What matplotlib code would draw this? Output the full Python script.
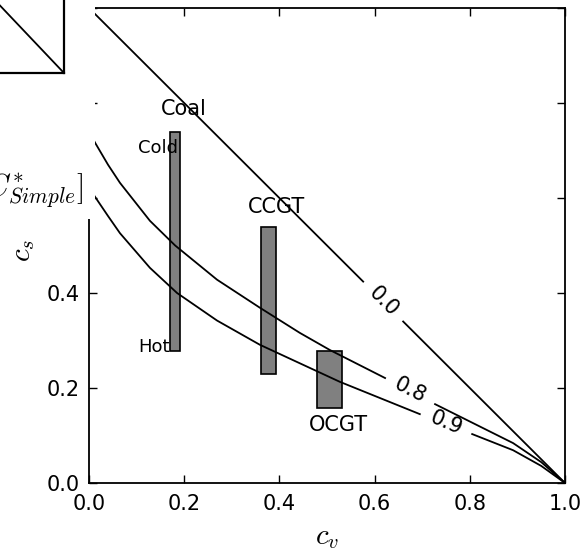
import matplotlib
matplotlib.use('Agg')
import matplotlib.pyplot as plt

plt.rcParams['mathtext.fontset'] = 'cm'
plt.rcParams['font.family'] = 'DejaVu Sans'

# technology bars (c_v centre, bar width, c_s bottom, c_s top)
techs = ['Coal', 'CCGT', 'OCGT']
tech_cv = [0.181, 0.377, 0.505]
tech_width = [0.021, 0.032, 0.052]
tech_lo = [0.278, 0.229, 0.158]
tech_hi = [0.739, 0.539, 0.278]
tech_label_xy = [(0.200, 0.775), (0.393, 0.568), (0.525, 0.109)]

# iso-lines (c_v, c_s); None marks the gap for the label
line_00_cv = [0.0, 0.576, None, 0.660, 1.0]
line_00_cs = [1.0, 0.424, None, 0.340, 0.0]

line_08_cv = [0.0, 0.013, 0.040, 0.065, 0.128, 0.181, 0.269, 0.359, 0.443,
              0.506, 0.622, None, 0.727, 0.891, 0.950, 1.0]
line_08_cs = [0.740, 0.716, 0.670, 0.632, 0.552, 0.500, 0.428, 0.369, 0.316,
              0.280, 0.221, None, 0.166, 0.084, 0.044, 0.0]

line_09_cv = [0.0, 0.013, 0.040, 0.065, 0.128, 0.185, 0.269, 0.359, 0.443,
              0.527, 0.695, None, 0.805, 0.891, 0.950, 1.0]
line_09_cs = [0.622, 0.602, 0.562, 0.526, 0.453, 0.400, 0.342, 0.291, 0.252,
              0.213, 0.145, None, 0.103, 0.069, 0.036, 0.0]

iso_labels = ['0.0', '0.8', '0.9']
iso_label_xy = [(0.618, 0.382), (0.674, 0.196), (0.750, 0.126)]
iso_label_rot = [-45, -27, -23]

W, H = 581, 552


def px(l, t, r, b):
    return [l / W, 1 - b / H, (r - l) / W, (b - t) / H]


fig = plt.figure(figsize=(W / 100, H / 100), dpi=100)
fig.patch.set_facecolor('white')

ax = fig.add_axes(px(89, 8, 565, 483))

heights = [h - l for h, l in zip(tech_hi, tech_lo)]
ax.bar(tech_cv, heights, width=tech_width, bottom=tech_lo, color='#808080',
       edgecolor='black', linewidth=1.2, zorder=1)

for xs, ys in [(line_00_cv, line_00_cs), (line_08_cv, line_08_cs),
               (line_09_cv, line_09_cs)]:
    xs = [float('nan') if v is None else v for v in xs]
    ys = [float('nan') if v is None else v for v in ys]
    ax.plot(xs, ys, color='black', linewidth=1.3, zorder=2)

for lab, (x, y), r in zip(iso_labels, iso_label_xy, iso_label_rot):
    ax.text(x, y, lab, rotation=r, ha='center', va='center',
            rotation_mode='anchor', fontsize=15)

for lab, (x, y) in zip(techs, tech_label_xy):
    ax.text(x, y, lab, ha='center', va='baseline', fontsize=15)
ax.text(0.144, 0.695, 'Cold', ha='center', va='baseline', fontsize=13)
ax.text(0.137, 0.276, 'Hot', ha='center', va='baseline', fontsize=13)

ax.set_xlim(0, 1)
ax.set_ylim(0, 1)
ax.set_xticks([0, 0.2, 0.4, 0.6, 0.8, 1.0])
ax.set_yticks([0, 0.2, 0.4, 0.6, 0.8, 1.0])
ax.tick_params(direction='in', length=6, width=1, top=True, right=True,
               labelsize=15)
ax.tick_params(axis='x', pad=8)
ax.tick_params(axis='y', pad=6.5)
for s in ax.spines.values():
    s.set_linewidth(1.3)

ax.set_xlabel(r'$c_v$', fontsize=21)
ax.xaxis.set_label_coords(0.5, -0.084)
ax.set_ylabel(r'$c_s$', fontsize=21)
ax.yaxis.set_label_coords(-0.11, 0.49)

# neighbouring panel covering the upper left corner
cover = fig.add_axes(px(0, 0, 95, 219))
cover.set_facecolor('white')
cover.set_xticks([])
cover.set_yticks([])
for s in cover.spines.values():
    s.set_visible(False)
cover.set_zorder(5)

box = fig.add_axes(px(-10, -5, 64, 73))
box.set_facecolor('white')
box.plot([0, 1], [1, 0], color='black', linewidth=1.3)
box.set_xlim(0, 1)
box.set_ylim(0, 1)
box.set_xticks([])
box.set_yticks([])
for s in box.spines.values():
    s.set_linewidth(1.6)
box.set_zorder(6)

fig.text(83 / W, 1 - 196 / H, r'$[C^{*}_{Simple}]$', ha='right',
         va='baseline', fontsize=22, zorder=10)

fig.savefig('out.png', dpi=100, facecolor='white')
